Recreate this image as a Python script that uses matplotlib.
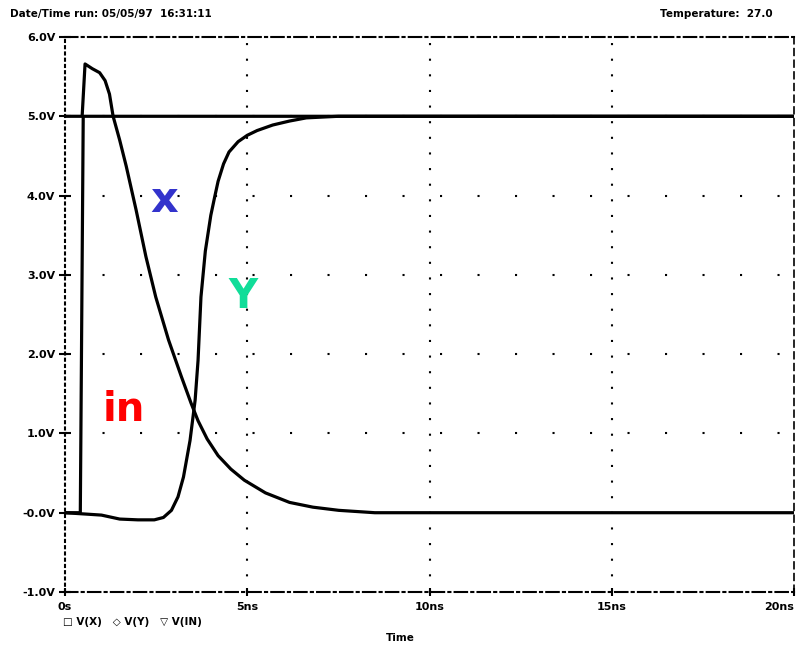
import matplotlib.pyplot as plt
import numpy as np

# waveform samples (time in ns, voltage in V)
t_in = [0.0, 0.42, 0.50, 20.0]
v_in = [0.0, 0.0, 5.0, 5.0]

t_x = [0.0, 0.47, 0.55, 0.75, 0.95, 1.10, 1.22, 1.32, 1.50, 1.68, 1.95,
       2.22, 2.49, 2.84, 3.19, 3.46, 3.65, 3.90, 4.20, 4.55, 4.92, 5.50,
       6.16, 6.80, 7.51, 8.5, 20.0]
v_x = [5.0, 5.0, 5.66, 5.60, 5.55, 5.45, 5.28, 5.0, 4.70, 4.37, 3.82,
       3.23, 2.72, 2.18, 1.72, 1.38, 1.16, 0.93, 0.72, 0.55, 0.41, 0.25,
       0.13, 0.07, 0.03, 0.0, 0.0]

t_y = [0.0, 1.0, 1.5, 2.0, 2.45, 2.70, 2.92, 3.10, 3.25, 3.43, 3.57, 3.65,
       3.73, 3.85, 4.00, 4.11, 4.20, 4.35, 4.50, 4.75, 5.00, 5.27, 5.70,
       6.16, 6.62, 7.5, 20.0]
v_y = [0.0, -0.03, -0.08, -0.09, -0.09, -0.06, 0.03, 0.20, 0.45, 0.91, 1.42,
       1.92, 2.72, 3.30, 3.75, 3.99, 4.18, 4.40, 4.55, 4.68, 4.76, 4.82, 4.89,
       4.94, 4.98, 5.0, 5.0]

y_ticks = [-1, 0, 1, 2, 3, 4, 5, 6]
y_labels = ["-1.0V", "-0.0V", "1.0V", "2.0V", "3.0V", "4.0V", "5.0V", "6.0V"]
x_ticks = [0, 5, 10, 15, 20]
x_labels = ["0s", "5ns", "10ns", "15ns", "20ns"]

fig = plt.figure(figsize=(7.96, 6.49), dpi=100)
ax = fig.add_axes([65 / 796, 57 / 649, 729 / 796, 555 / 649])

# dotted grid like the plotter output
for v in [1, 2, 3, 4, 5]:
    ax.axhline(v, color="black", lw=1.5, linestyle=(0, (1, 17)), zorder=1)
for t in [5, 10, 15]:
    ax.axvline(t, color="black", lw=1.5, linestyle=(0, (1, 6.5)), zorder=1)

# the three waveforms
ax.plot(t_in, v_in, color="black", lw=2.3, zorder=3)
ax.plot(t_x, v_x, color="black", lw=2.3, zorder=3)
ax.plot(t_y, v_y, color="black", lw=2.3, zorder=3)

ax.set_xlim(0, 20)
ax.set_ylim(-1, 6)
ax.set_yticks(y_ticks)
ax.set_yticklabels(y_labels, fontsize=8, fontweight="bold")
ax.set_xticks(x_ticks)
ax.set_xticklabels(x_labels, fontsize=8, fontweight="bold")
ax.get_xticklabels()[-1].set_horizontalalignment("right")
ax.tick_params(axis="y", direction="inout", length=8, width=1.5, pad=3)
ax.tick_params(axis="x", direction="inout", length=6, width=1.5, pad=4)

ax.spines["left"].set_linestyle((0, (1, 2)))
ax.spines["left"].set_linewidth(1.5)
ax.spines["top"].set_linestyle((0, (6, 2, 1, 2)))
ax.spines["top"].set_linewidth(1.5)
ax.spines["bottom"].set_linestyle((0, (6, 2, 1, 2)))
ax.spines["bottom"].set_linewidth(1.5)
ax.spines["right"].set_linestyle((0, (4, 3)))
ax.spines["right"].set_linewidth(1.2)

# coloured node names
ax.text(2.72, 3.95, "x", color="#3333cc", fontsize=31, fontweight="bold",
        ha="center", va="center")
ax.text(4.88, 2.72, "Y", color="#11dd99", fontsize=29, fontweight="bold",
        ha="center", va="center")
ax.text(1.62, 1.3, "in", color="red", fontsize=29, fontweight="bold",
        ha="center", va="center")

# header and footer text of the plot
fig.text(10 / 796, 1 - 14 / 649, "Date/Time run: 05/05/97  16:31:11",
         fontsize=7.5, fontweight="bold", va="center")
fig.text(660 / 796, 1 - 14 / 649, "Temperature:  27.0",
         fontsize=7.5, fontweight="bold", va="center")
fig.text(63 / 796, 1 - 622 / 649, "\u25a1 V(X)   \u25c7 V(Y)   \u25bd V(IN)",
         fontsize=7.5, fontweight="bold", va="center")
fig.text(400 / 796, 1 - 638 / 649, "Time", fontsize=7.5, fontweight="bold",
         ha="center", va="center")

plt.savefig("out.png", dpi=100)
